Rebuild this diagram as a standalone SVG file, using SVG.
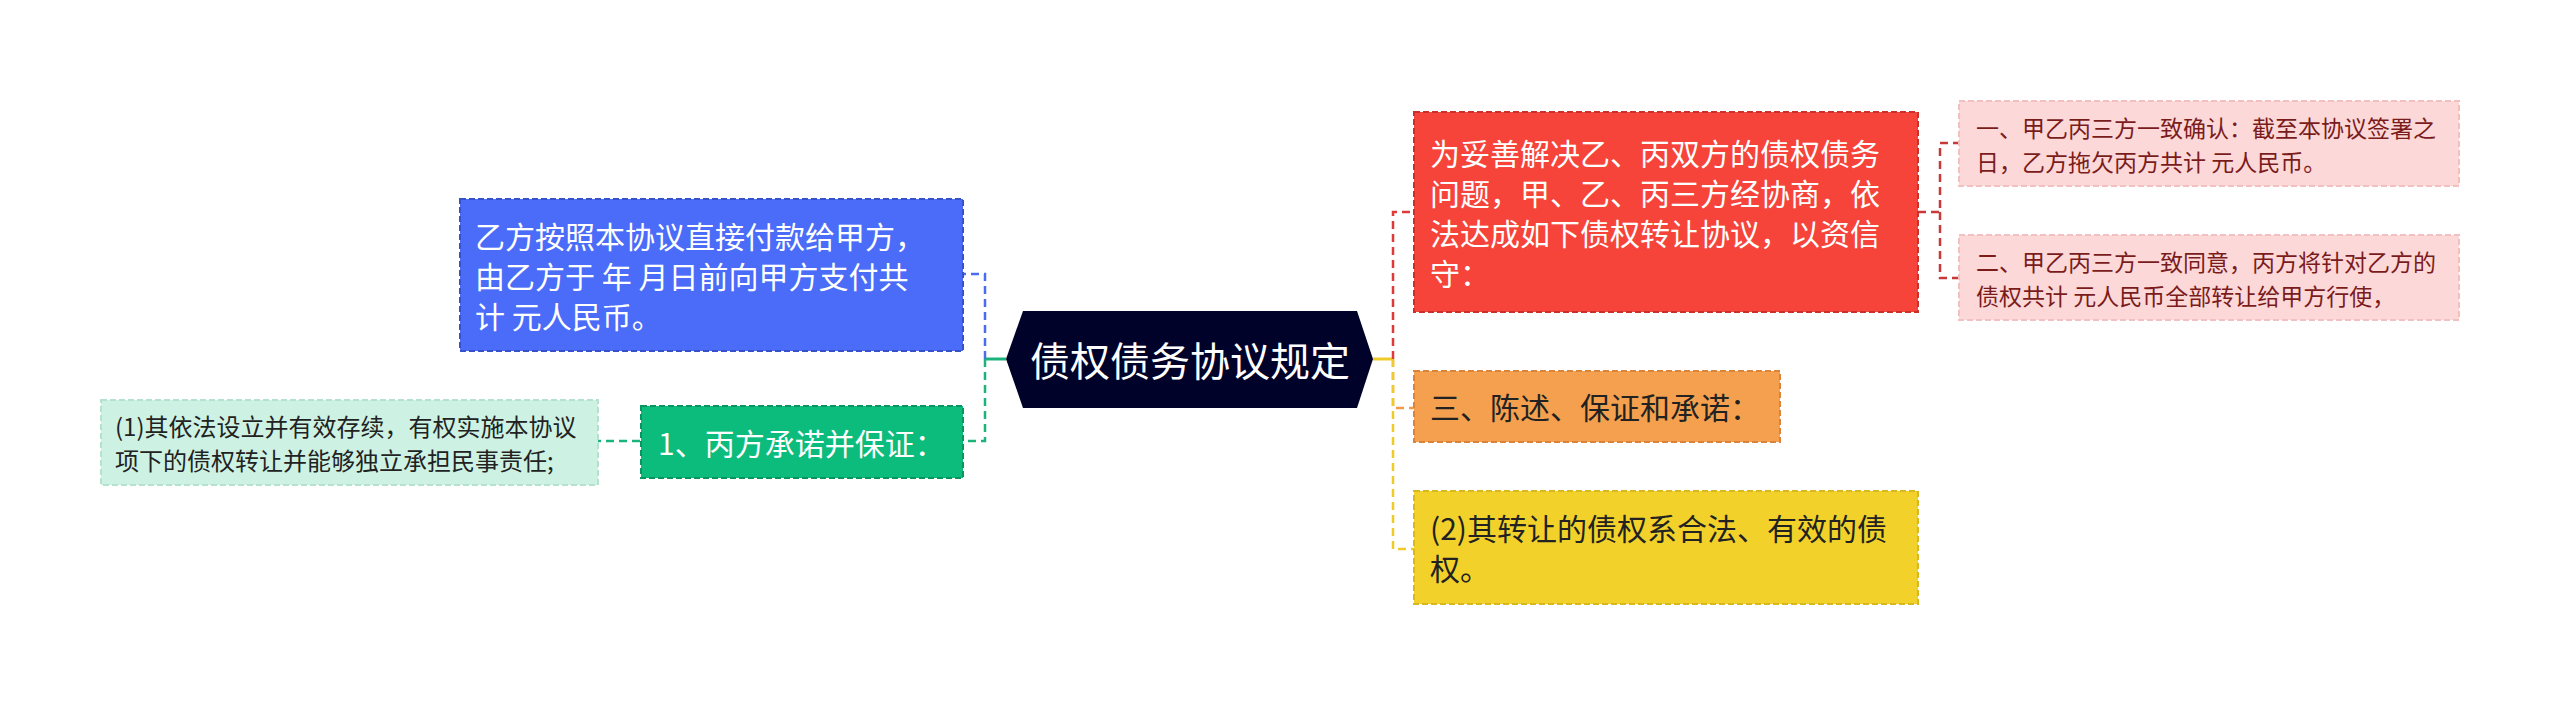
<svg xmlns="http://www.w3.org/2000/svg" width="2560" height="705" viewBox="0 0 2560 705">
<style>
text{font-family:"Noto Sans CJK SC","Noto Sans",sans-serif;dominant-baseline:central}
.c{fill:none;stroke-width:2.5;stroke-dasharray:8 5}
.s{fill:none;stroke-width:3}
.b{stroke-width:2;stroke-dasharray:6 3}
.t30{font-size:30px}
.t24{font-size:24px}
.t23{font-size:23px}
</style>
<rect width="2560" height="705" fill="#ffffff"/>
<g id="connectors">
<path class="s" stroke="#1ab37a" d="M1006 359H985"/>
<path class="c" stroke="#4a6cf0" d="M985 359V274H963"/>
<path class="c" stroke="#1ab37a" d="M985 359V441H963"/>
<path class="c" stroke="#1ab37a" d="M640 441H598"/>
<path class="s" stroke="#efcb2a" d="M1373 359H1393"/>
<path class="c" stroke="#e0393a" d="M1393 359V212H1414"/>
<path class="c" stroke="#f29a4a" d="M1393 359V408H1414"/>
<path class="c" stroke="#efcb2a" d="M1393 359V549H1414"/>
<path class="c" stroke="#c83a3a" d="M1918 212H1940V143H1959M1940 212V278H1959"/>
</g>
<g id="root">
<polygon points="1006,359 1023,311 1357,311 1373,359 1357,408 1023,408" fill="#000229"/>
<text x="1190" y="359" font-size="40" fill="#ffffff" text-anchor="middle">债权债务协议规定</text>
</g>
<g id="n-blue">
<rect class="b" x="460" y="199" width="503" height="152" fill="#4a6cf8" stroke="#3552c8"/>
<text class="t30" fill="#ffffff"><tspan x="475" y="235">乙方按照本协议直接付款给甲方，</tspan><tspan x="475" y="275">由乙方于 年 月日前向甲方支付共</tspan><tspan x="475" y="315">计 元人民币。</tspan></text>
</g>
<g id="n-green">
<rect class="b" x="641" y="406" width="322" height="72" fill="#0cbc7c" stroke="#09955f"/>
<text class="t30" x="658" y="442" fill="#ffffff">1、丙方承诺并保证：</text>
</g>
<g id="n-lightgreen">
<rect class="b" x="101" y="400" width="497" height="85" fill="#cdf2e4" stroke="#b5e2d0"/>
<text class="t24" fill="#222222"><tspan x="115" y="425">(1)其依法设立并有效存续，有权实施本协议</tspan><tspan x="115" y="459">项下的债权转让并能够独立承担民事责任;</tspan></text>
</g>
<g id="n-red">
<rect class="b" x="1414" y="112" width="504" height="200" fill="#f6443b" stroke="#c9312a"/>
<text class="t30" fill="#ffffff"><tspan x="1430" y="152">为妥善解决乙、丙双方的债权债务</tspan><tspan x="1430" y="192">问题，甲、乙、丙三方经协商，依</tspan><tspan x="1430" y="232">法达成如下债权转让协议，以资信</tspan><tspan x="1430" y="272">守：</tspan></text>
</g>
<g id="n-pink1">
<rect class="b" x="1959" y="101" width="500" height="85" fill="#fdd8d8" stroke="#f2c0c0"/>
<text class="t23" fill="#7a1c1c"><tspan x="1976" y="126.5">一、甲乙丙三方一致确认：截至本协议签署之</tspan><tspan x="1976" y="160.5">日，乙方拖欠丙方共计 元人民币。</tspan></text>
</g>
<g id="n-pink2">
<rect class="b" x="1959" y="235" width="500" height="85" fill="#fdd8d8" stroke="#f2c0c0"/>
<text class="t23" fill="#7a1c1c"><tspan x="1976" y="260.5">二、甲乙丙三方一致同意，丙方将针对乙方的</tspan><tspan x="1976" y="294.5">债权共计 元人民币全部转让给甲方行使，</tspan></text>
</g>
<g id="n-orange">
<rect class="b" x="1414" y="371" width="366" height="71" fill="#f5a04e" stroke="#d9843a"/>
<text class="t30" x="1430" y="406" fill="#222222">三、陈述、保证和承诺：</text>
</g>
<g id="n-yellow">
<rect class="b" x="1414" y="491" width="504" height="113" fill="#f2d22a" stroke="#d8b81c"/>
<text class="t30" fill="#222222"><tspan x="1430" y="527">(2)其转让的债权系合法、有效的债</tspan><tspan x="1430" y="567">权。</tspan></text>
</g>
</svg>
